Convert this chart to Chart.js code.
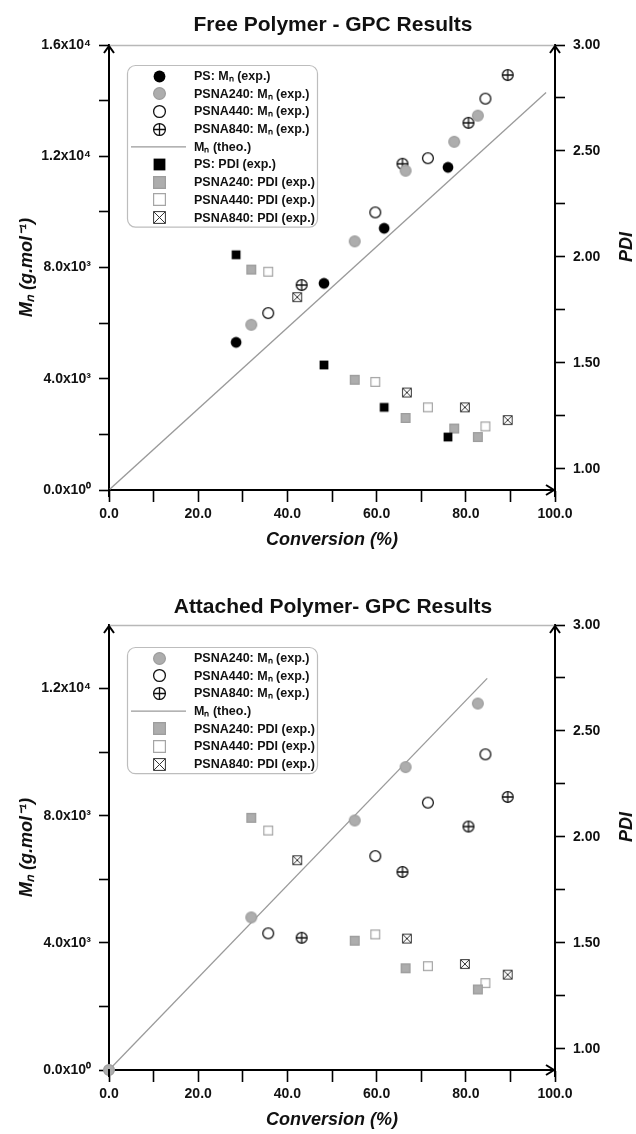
<!DOCTYPE html>
<html><head><meta charset="utf-8">
<script src="https://cdn.jsdelivr.net/npm/chart.js@4.4.0/dist/chart.umd.min.js"></script>
<style>
html,body{margin:0;padding:0;background:#fff;overflow:hidden;width:636px;height:1134px}
.wrap{position:absolute;left:0;width:636px;height:565px}
#w1{top:0}#w2{top:580px}
canvas{display:block}
</style></head><body>
<div class="wrap" id="w1"><canvas id="c1" width="636" height="565"></canvas></div>
<div class="wrap" id="w2"><canvas id="c2" width="636" height="565"></canvas></div>
<script>
// ---------- Free polymer (top chart) ----------
const freePS_conv = [28.5, 48.2, 61.7, 76.0];
const freePS_Mn = [5310, 7430, 9410, 11600];
const freePS_PDI = [2.01, 1.49, 1.29, 1.15];
const free240_conv = [31.9, 55.1, 66.5, 77.4, 82.7];
const free240_Mn = [5940, 8940, 11480, 12520, 13460];
const free240_PDI = [1.94, 1.42, 1.24, 1.19, 1.15];
const free440_conv = [35.7, 59.7, 71.5, 84.4];
const free440_Mn = [6360, 9980, 11930, 14070];
const free440_PDI = [1.93, 1.41, 1.29, 1.20];
const free840_convMn = [43.2, 65.8, 80.6, 89.4];
const free840_Mn = [7370, 11730, 13200, 14920];
const free840_convPDI = [42.2, 66.8, 79.8, 89.4];
const free840_PDI = [1.81, 1.36, 1.29, 1.23];
const freeTheo_conv = [0, 98.0];
const freeTheo_Mn = [0, 14290];

// ---------- Attached polymer (bottom chart) ----------
const att240_convMn = [0, 31.9, 55.1, 66.5, 82.7];
const att240_Mn = [0, 4800, 7850, 9530, 11530];
const att240_convPDI = [31.9, 55.1, 66.5, 82.7];
const att240_PDI = [2.09, 1.51, 1.38, 1.28];
const att440_conv = [35.7, 59.7, 71.5, 84.4];
const att440_Mn = [4300, 6730, 8410, 9930];
const att440_PDI = [2.03, 1.54, 1.39, 1.31];
const att840_convMn = [43.2, 65.8, 80.6, 89.4];
const att840_Mn = [4160, 6230, 7660, 8590];
const att840_convPDI = [42.2, 66.8, 79.8, 89.4];
const att840_PDI = [1.89, 1.52, 1.40, 1.35];
const attTheo_conv = [0, 84.8];
const attTheo_Mn = [0, 12320];

// ---------- ticks ----------
const xTickValues = [0, 10, 20, 30, 40, 50, 60, 70, 80, 90, 100];
const xLabelValues = [0, 20, 40, 60, 80, 100];
const freeMnTicks = [0, 2000, 4000, 6000, 8000, 10000, 12000, 14000, 16000];
const freeMnLabels = [0, 4000, 8000, 12000, 16000];
const attMnTicks = [0, 2000, 4000, 6000, 8000, 10000, 12000];
const attMnLabels = [0, 4000, 8000, 12000];
const pdiTicks = [1.0, 1.25, 1.5, 1.75, 2.0, 2.25, 2.5, 2.75, 3.0];
const pdiLabels = [1.0, 1.5, 2.0, 2.5, 3.0];

const FONT = "'Liberation Sans', Arial, Helvetica, sans-serif";
const SUP = {'0':'⁰','1':'¹','2':'²','3':'³','4':'⁴','5':'⁵','6':'⁶','7':'⁷','8':'⁸','9':'⁹'};
function sci(v){
  if (v === 0) return '0.0x10⁰';
  const e = Math.floor(Math.log10(v) + 1e-9);
  const m = (v / Math.pow(10, e)).toFixed(1);
  return m + 'x10' + String(e).split('').map(c => SUP[c]).join('');
}

function makeMarker(type, size){
  const pad = 2, s = size + pad * 2;
  const c = document.createElement('canvas'); c.width = s; c.height = s;
  const g = c.getContext('2d');
  const m = s / 2, r = size / 2 - 0.6;
  g.lineWidth = 1.2;
  if (type.indexOf('circle') === 0){
    g.beginPath(); g.arc(m, m, r, 0, Math.PI * 2);
    if (type === 'circleBlack'){ g.fillStyle = '#000'; g.fill(); }
    else if (type === 'circleGray'){ g.fillStyle = '#adadad'; g.fill(); g.strokeStyle = '#9d9d9d'; g.stroke(); }
    else {
      g.fillStyle = '#fff'; g.fill(); g.strokeStyle = '#111'; g.lineWidth = 1.3; g.stroke();
      if (type === 'circlePlus'){
        g.beginPath(); g.moveTo(m - r, m); g.lineTo(m + r, m); g.moveTo(m, m - r); g.lineTo(m, m + r); g.stroke();
      }
    }
  } else {
    const h = size / 2 - 0.6;
    g.beginPath(); g.rect(m - h, m - h, 2 * h, 2 * h);
    if (type === 'squareBlack'){ g.fillStyle = '#000'; g.fill(); }
    else if (type === 'squareGray'){ g.fillStyle = '#adadad'; g.fill(); g.strokeStyle = '#9d9d9d'; g.stroke(); }
    else if (type === 'squareOpen'){ g.fillStyle = '#fff'; g.fill(); g.strokeStyle = '#a5a5a5'; g.stroke(); }
    else {
      g.fillStyle = '#fff'; g.fill(); g.strokeStyle = '#333'; g.lineWidth = 1; g.stroke();
      g.beginPath(); g.moveTo(m - h, m - h); g.lineTo(m + h, m + h); g.moveTo(m + h, m - h); g.lineTo(m - h, m + h); g.stroke();
    }
  }
  return c;
}

function sc(label, xs, ys, axis, mk){
  const size = mk.indexOf('circle') === 0 ? 12 : 10;
  return {label, data: xs.map((x, i) => ({x, y: ys[i]})), yAxisID: axis, showLine: false,
    pointStyle: makeMarker(mk, size), pointRadius: size / 2, pointHoverRadius: size / 2, clip: false, mk};
}
function theo(xs, ys){
  return {label: 'Mₙ (theo.)', data: xs.map((x, i) => ({x, y: ys[i]})), yAxisID: 'y', showLine: true,
    borderColor: '#9a9a9a', borderWidth: 1.3, pointRadius: 0, pointHoverRadius: 0, mk: 'line'};
}

const decorPlugin = {
  id: 'decor',
  beforeDatasetsDraw(chart){
    const {ctx, chartArea: a} = chart;
    ctx.save();
    ctx.strokeStyle = '#b8b8b8'; ctx.lineWidth = 1.5;
    ctx.beginPath(); ctx.moveTo(a.left, a.top + 0.5); ctx.lineTo(a.right, a.top + 0.5); ctx.stroke();
    ctx.restore();
  },
  afterDraw(chart, args, opts){
    const {ctx, chartArea: a} = chart;
    ctx.save();
    ctx.strokeStyle = '#000'; ctx.lineWidth = 2; ctx.lineCap = 'square';
    ctx.beginPath();
    ctx.moveTo(a.left, a.bottom); ctx.lineTo(a.left, a.bottom + 6);
    ctx.moveTo(a.right, a.bottom); ctx.lineTo(a.right, a.bottom + 6);
    ctx.stroke();
    ctx.lineCap = 'butt';
    ctx.beginPath();
    ctx.moveTo(a.left - 5, a.top + 8); ctx.lineTo(a.left, a.top + 1); ctx.lineTo(a.left + 5, a.top + 8);
    ctx.moveTo(a.right - 5, a.top + 8); ctx.lineTo(a.right, a.top + 1); ctx.lineTo(a.right + 5, a.top + 8);
    ctx.moveTo(a.right - 9, a.bottom - 5); ctx.lineTo(a.right - 1, a.bottom); ctx.lineTo(a.right - 9, a.bottom + 5);
    ctx.stroke();
    ctx.translate(627, a.top + 202);
    ctx.rotate(-Math.PI / 2);
    ctx.fillStyle = '#111';
    ctx.font = 'italic bold 18px ' + FONT;
    ctx.textAlign = 'center'; ctx.textBaseline = 'middle';
    ctx.fillText('PDI', 0, 0);
    ctx.restore();

    const ds = chart.data.datasets;
    const rowH = 17.7;
    const bx = a.left + 18, by = a.top + opts.legendTop;
    const bw = 190, bh = 11 + (ds.length - 1) * rowH + 9;
    ctx.save();
    ctx.beginPath();
    if (ctx.roundRect) ctx.roundRect(bx + 0.5, by + 0.5, bw, bh, 8); else ctx.rect(bx + 0.5, by + 0.5, bw, bh);
    ctx.fillStyle = '#fff'; ctx.fill();
    ctx.strokeStyle = '#bdbdbd'; ctx.lineWidth = 1.2; ctx.stroke();
    ctx.font = 'bold 12.5px ' + FONT;
    ctx.fillStyle = '#111'; ctx.textAlign = 'left'; ctx.textBaseline = 'middle';
    ds.forEach((d, i) => {
      const yy = by + 11 + i * rowH;
      if (d.mk === 'line'){
        ctx.strokeStyle = '#9a9a9a'; ctx.lineWidth = 1.3;
        ctx.beginPath(); ctx.moveTo(bx + 4, yy); ctx.lineTo(bx + 59, yy); ctx.stroke();
      } else {
        const img = makeMarker(d.mk, 13);
        ctx.drawImage(img, Math.round(bx + 32 - img.width / 2), Math.round(yy - img.height / 2));
      }
      ctx.fillText(d.label, bx + 67, yy + 0.5);
    });
    ctx.restore();
  }
};

function build(id, titleText, datasets, mnMax, mnTicks, mnLabels, legendTop, titlePadTop){
  const tickFont = {family: FONT, size: 14, weight: 'bold'};
  const titleFont = {family: FONT, size: 18, weight: 'bold', style: 'italic'};
  return new Chart(document.getElementById(id), {
    type: 'scatter',
    data: {datasets},
    plugins: [decorPlugin],
    options: {
      responsive: false, animation: false, devicePixelRatio: 1,
      events: [],
      layout: {padding: {left: 0, right: -30, top: 0, bottom: 0}},
      plugins: {
        legend: {display: false}, tooltip: {enabled: false},
        title: {display: true, text: titleText, color: '#111',
          font: {family: FONT, size: 21, weight: 'bold'}, padding: {top: titlePadTop, bottom: 19.8 - titlePadTop}},
        decor: {legendTop}
      },
      scales: {
        x: {
          type: 'linear', min: 0, max: 100, z: 1,
          afterBuildTicks: s => { s.ticks = xTickValues.map(v => ({value: v})); },
          afterFit: s => { s.height = 75; },
          grid: {drawOnChartArea: false, drawTicks: true, tickLength: 12, tickWidth: 1.6, color: '#000'},
          border: {display: true, color: '#000', width: 2},
          ticks: {font: tickFont, color: '#111', padding: 4, maxRotation: 0, autoSkip: false,
            callback: v => xLabelValues.includes(v) ? v.toFixed(1) : ''},
          title: {display: true, text: 'Conversion (%)', color: '#111', font: titleFont, padding: {top: 0, bottom: 14}}
        },
        y: {
          type: 'linear', position: 'left', min: 0, max: mnMax, z: 1,
          afterBuildTicks: s => { s.ticks = mnTicks.map(v => ({value: v})); },
          afterFit: s => { s.width = 109; },
          grid: {drawOnChartArea: false, drawTicks: true, tickLength: 10, tickWidth: 1.6, color: '#000'},
          border: {display: true, color: '#000', width: 2},
          ticks: {font: tickFont, color: '#111', padding: 8, autoSkip: false,
            callback: v => mnLabels.includes(v) ? sci(v) : ''},
          title: {display: true, text: 'Mₙ (g.mol⁻¹)', color: '#111', font: titleFont, padding: {top: 16, bottom: 0}}
        },
        y1: {
          type: 'linear', position: 'right', min: 0.9, max: 3.0, z: 1,
          afterBuildTicks: s => { s.ticks = pdiTicks.map(v => ({value: v})); },
          afterFit: s => { s.width = 111; },
          grid: {drawOnChartArea: false, drawTicks: true, tickLength: 10, tickWidth: 1.6, color: '#000'},
          border: {display: true, color: '#000', width: 2},
          ticks: {font: tickFont, color: '#111', padding: 8, autoSkip: false,
            callback: v => pdiLabels.some(p => Math.abs(p - v) < 1e-9) ? v.toFixed(2) : ''},
          title: {display: false}
        }
      }
    }
  });
}

build('c1', 'Free Polymer - GPC Results', [
  sc('PS: Mₙ (exp.)', freePS_conv, freePS_Mn, 'y', 'circleBlack'),
  sc('PSNA240: Mₙ (exp.)', free240_conv, free240_Mn, 'y', 'circleGray'),
  sc('PSNA440: Mₙ (exp.)', free440_conv, free440_Mn, 'y', 'circleOpen'),
  sc('PSNA840: Mₙ (exp.)', free840_convMn, free840_Mn, 'y', 'circlePlus'),
  theo(freeTheo_conv, freeTheo_Mn),
  sc('PS: PDI (exp.)', freePS_conv, freePS_PDI, 'y1', 'squareBlack'),
  sc('PSNA240: PDI (exp.)', free240_conv, free240_PDI, 'y1', 'squareGray'),
  sc('PSNA440: PDI (exp.)', free440_conv, free440_PDI, 'y1', 'squareOpen'),
  sc('PSNA840: PDI (exp.)', free840_convPDI, free840_PDI, 'y1', 'squareX')
], 16000, freeMnTicks, freeMnLabels, 20, 13);

build('c2', 'Attached Polymer- GPC Results', [
  sc('PSNA240: Mₙ (exp.)', att240_convMn, att240_Mn, 'y', 'circleGray'),
  sc('PSNA440: Mₙ (exp.)', att440_conv, att440_Mn, 'y', 'circleOpen'),
  sc('PSNA840: Mₙ (exp.)', att840_convMn, att840_Mn, 'y', 'circlePlus'),
  theo(attTheo_conv, attTheo_Mn),
  sc('PSNA240: PDI (exp.)', att240_convPDI, att240_PDI, 'y1', 'squareGray'),
  sc('PSNA440: PDI (exp.)', att440_conv, att440_PDI, 'y1', 'squareOpen'),
  sc('PSNA840: PDI (exp.)', att840_convPDI, att840_PDI, 'y1', 'squareX')
], 14000, attMnTicks, attMnLabels, 22, 15);
</script>
</body></html>
